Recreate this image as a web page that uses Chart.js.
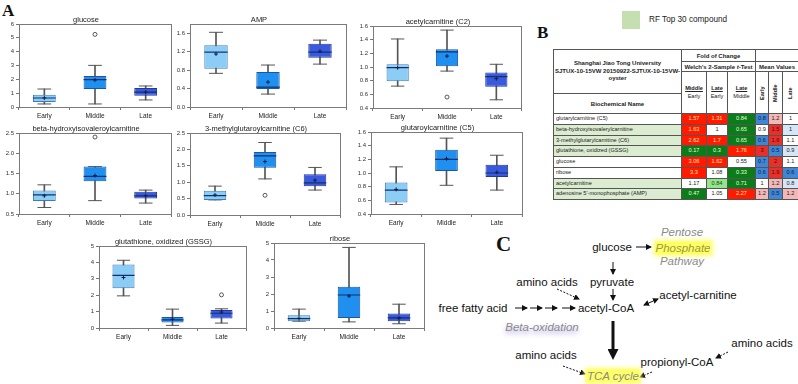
<!DOCTYPE html>
<html>
<head>
<meta charset="utf-8">
<script src="https://cdn.jsdelivr.net/npm/chart.js@4.4.1/dist/chart.umd.min.js"></script>
<style>
body{margin:0;width:798px;height:384px;position:relative;background:#fff;overflow:hidden;font-family:"Liberation Sans",Arial,sans-serif}
.box{position:absolute}
.big{position:absolute;font-family:"Liberation Serif","DejaVu Serif",serif;font-weight:bold;color:#111}
#tbl{position:absolute;left:553px;top:49px;border-collapse:collapse;table-layout:fixed;width:245px;font-size:5.6px;color:#222}
#tbl td{border:1px solid #555;padding:0;text-align:center;overflow:hidden;white-space:nowrap;line-height:1}
#tbl td.hd{font-weight:bold;font-size:6px}
#tbl td.nm{text-align:left;padding-left:2px}
#tbl td.vt{writing-mode:vertical-rl;transform:rotate(180deg);font-weight:bold}
#tbl tr.dr{height:10.75px}
.pw{position:absolute;transform:translate(-50%,-50%);font-size:11.5px;color:#111;white-space:nowrap}
.it{font-style:italic;color:#8a8a8a}
.hl{background:#ffff66;box-shadow:0 0 4px 2px #ffff66}
</style>
</head>
<body>
<div class="big" style="left:2px;top:1px;font-size:17px">A</div>
<div class="big" style="left:537px;top:23px;font-size:17px">B</div>
<div class="big" style="left:496px;top:232px;font-size:21px">C</div>

<div style="position:absolute;left:622px;top:11px;width:18px;height:18px;background:#c6dfb0"></div>
<div style="position:absolute;left:649px;top:15px;font-size:8.2px;color:#222;white-space:nowrap">RF Top 30 compound</div>

<table id="tbl"></table>

<svg width="798" height="384" style="position:absolute;left:0;top:0">
  <defs>
    <marker id="ah" markerWidth="6" markerHeight="6" refX="5" refY="3" orient="auto-start-reverse" markerUnits="userSpaceOnUse">
      <path d="M0,0 L6,3 L0,6 z" fill="#111"/>
    </marker>
    <marker id="ahb" markerWidth="11" markerHeight="11" refX="2" refY="5.5" orient="auto" markerUnits="userSpaceOnUse">
      <path d="M0,0 L11,5.5 L0,11 z" fill="#111"/>
    </marker>
  </defs>
  <g stroke="#111" stroke-width="1" fill="none">
    <line x1="636" y1="247" x2="651" y2="247" marker-end="url(#ah)"/>
    <line x1="613" y1="262" x2="613" y2="274" marker-end="url(#ah)"/>
    <line x1="613" y1="289" x2="613" y2="300" marker-end="url(#ah)"/>
    <line x1="557" y1="289" x2="579" y2="299" stroke-dasharray="2,1.5" marker-end="url(#ah)"/>
    <line x1="644" y1="305" x2="658" y2="299" marker-start="url(#ah)" marker-end="url(#ah)"/>
    <line x1="515" y1="308" x2="527" y2="308" marker-end="url(#ah)"/>
    <line x1="530" y1="308" x2="542" y2="308" marker-end="url(#ah)"/>
    <line x1="545" y1="308" x2="557" y2="308" marker-end="url(#ah)"/>
    <line x1="562" y1="308" x2="575" y2="308" marker-end="url(#ah)"/>
    <line x1="613" y1="321" x2="613" y2="351" stroke-width="3" marker-end="url(#ahb)"/>
    <line x1="563" y1="366" x2="585" y2="374" stroke-dasharray="2,1.5" marker-end="url(#ah)"/>
    <line x1="652" y1="372" x2="640" y2="377" stroke-dasharray="2,1.5" marker-end="url(#ah)"/>
    <line x1="728" y1="352" x2="716" y2="358" stroke-dasharray="2,1.5" marker-end="url(#ah)"/>
  </g>
</svg>

<div class="pw" style="left:612px;top:247px">glucose</div>
<div class="pw it" style="left:682px;top:232px">Pentose</div>
<div class="pw it" style="left:683px;top:248px"><span class="hl" style="color:#9a9a3a">Phosphate</span></div>
<div class="pw it" style="left:682px;top:261px">Pathway</div>
<div class="pw" style="left:612px;top:282px">pyruvate</div>
<div class="pw" style="left:547px;top:282px">amino acids</div>
<div class="pw" style="left:698px;top:295px">acetyl-carnitine</div>
<div class="pw" style="left:473px;top:308px">free fatty acid</div>
<div class="pw" style="left:606px;top:308px">acetyl-CoA</div>
<div class="pw it" style="left:542px;top:327px;text-shadow:0 3px 5px #a99ee0">Beta-oxidation</div>
<div class="pw" style="left:546px;top:355px">amino acids</div>
<div class="pw" style="left:677px;top:362px">propionyl-CoA</div>
<div class="pw" style="left:762px;top:343px">amino acids</div>
<div class="pw it" style="left:613px;top:376px"><span class="hl">TCA cycle</span></div>

<script>
const groups = ['Early', 'Middle', 'Late'];

// each box: [min, q1, median, q3, max]
const glucoseBox = [[0.22, 0.36, 0.65, 0.89, 1.30], [0.22, 1.30, 1.98, 2.24, 3.01], [0.51, 0.82, 1.08, 1.37, 1.52]];
const glucoseMean = [0.65, 1.95, 1.08];
const glucoseOut = [null, 5.25, null];

const ampBox = [[0.73, 0.83, 1.19, 1.34, 1.62], [0.28, 0.39, 0.43, 0.76, 0.91], [0.93, 1.07, 1.19, 1.37, 1.45]];
const ampMean = [1.15, 0.54, 1.21];
const ampOut = [null, null, null];

const acetylBox = [[0.72, 0.79, 0.99, 1.04, 1.41], [0.94, 1.01, 1.22, 1.26, 1.54], [0.52, 0.71, 0.86, 0.92, 1.04]];
const acetylMean = [0.99, 1.16, 0.83];
const acetylOut = [null, 0.56, null];

const betaBox = [[0.66, 0.82, 0.97, 1.08, 1.22], [0.83, 1.31, 1.43, 1.67, 1.67], [0.77, 0.88, 0.95, 1.05, 1.09]];
const betaMean = [0.95, 1.45, 0.95];
const betaOut = [null, 2.40, null];

const methylBox = [[0.46, 0.46, 0.59, 0.74, 0.88], [1.10, 1.44, 1.80, 1.92, 2.21], [0.76, 0.88, 0.98, 1.24, 1.45]];
const methylMean = [0.61, 1.63, 1.06];
const methylOut = [null, 0.60, null];

const glutBox = [[0.54, 0.57, 0.75, 0.86, 1.09], [0.82, 1.03, 1.20, 1.34, 1.51], [0.75, 0.94, 1.00, 1.12, 1.26]];
const glutMean = [0.76, 1.21, 1.01];
const glutOut = [null, null, null];

const gssgBox = [[1.96, 2.42, 3.21, 3.87, 4.13], [0.16, 0.34, 0.50, 0.67, 1.15], [0.30, 0.58, 0.90, 1.09, 1.17]];
const gssgMean = [3.08, 0.54, 0.97];
const gssgOut = [null, null, 2.02];

const riboseBox = [[0.40, 0.40, 0.55, 0.75, 1.11], [0.36, 0.59, 1.94, 2.43, 4.74], [0.25, 0.40, 0.60, 0.85, 1.40]];
const riboseMean = [0.57, 1.88, 0.58];
const riboseOut = [null, null, null];

// table B
const compounds = ['glutarylcarnitine (C5)', 'beta-hydroxyisovalerylcarnitine', '3-methylglutarylcarnitine (C6)',
  'glutathione, oxidized (GSSG)', 'glucose', 'ribose', 'acetylcarnitine', "adenosine 5'-monophosphate (AMP)"];
const rfTop30 = [false, true, true, true, false, false, true, true];
const foldMiddleEarly = ['1.57', '1.63', '2.62', '0.17', '3.06', '3.3', '1.17', '0.47'];
const foldLateEarly = ['1.31', '1', '1.7', '0.3', '1.62', '1.08', '0.84', '1.05'];
const foldLateMiddle = ['0.84', '0.65', '0.65', '1.76', '0.55', '0.33', '0.71', '2.27'];
const sigMiddleEarly = ['R', 'R', 'R', 'G', 'R', 'R', 'W', 'G'];
const sigLateEarly = ['R', 'W', 'R', 'G', 'R', 'W', 'g', 'W'];
const sigLateMiddle = ['G', 'G', 'G', 'R', 'W', 'G', 'G', 'R'];
const meanEarly = ['0.8', '0.9', '0.6', '3', '0.7', '0.6', '1', '1.2'];
const meanMiddle = ['1.2', '1.5', '1.6', '0.5', '2', '1.9', '1.2', '0.5'];
const meanLate = ['1', '1', '1.1', '0.9', '1.1', '0.6', '0.8', '1.2'];
const heatEarly = ['B', 'W', 'B', 'r', 'B', 'B', 'W', 'P'];
const heatMiddle = ['P', 'r', 'r', 'B', 'r', 'r', 'P', 'B'];
const heatLate = ['W', 'b', 'W', 'b', 'W', 'B', 'b', 'P'];

const cellStyle = {
  R: 'background:#ff1a00;color:#ffe9a8',
  G: 'background:#0a7d1a;color:#e8ffd8',
  g: 'background:#92e68a;color:#1d3d1d',
  W: 'background:#fff;color:#222',
  B: 'background:#3f86d4;color:#0c2040',
  b: 'background:#d7e6f6;color:#222',
  P: 'background:#f5b8b8;color:#222',
  r: 'background:#e8302a;color:#5a0000'
};

function buildTable() {
  let h = '<colgroup><col style="width:128px"><col style="width:25px"><col style="width:21px"><col style="width:28px">' +
    '<col style="width:13px"><col style="width:14px"><col style="width:16px"></colgroup>';
  h += '<tr style="height:12px"><td rowspan="3" class="hd" style="line-height:1.3">Shanghai Jiao Tong University<br>SJTUX-10-15VW 20150922-SJTUX-10-15VW-<br>oyster</td>' +
    '<td colspan="3" class="hd">Fold of Change</td><td colspan="3"></td></tr>';
  h += '<tr style="height:10px"><td colspan="3" class="hd">Welch\'s 2-Sample <i>t</i>-Test</td><td colspan="3" class="hd">Mean Values</td></tr>';
  h += '<tr style="height:22px">' +
    '<td rowspan="2" style="line-height:1.3"><b><u>Middle</u></b><br>Early</td>' +
    '<td rowspan="2" style="line-height:1.3"><b><u>Late</u></b><br>Early</td>' +
    '<td rowspan="2" style="line-height:1.3"><b><u>Late</u></b><br>Middle</td>' +
    '<td rowspan="2" class="vt">Early</td><td rowspan="2" class="vt">Middle</td><td rowspan="2" class="vt">Late</td></tr>';
  h += '<tr style="height:20px"><td class="hd">Biochemical Name</td></tr>';
  compounds.forEach((name, i) => {
    h += '<tr class="dr">';
    h += `<td class="nm" style="background:${rfTop30[i] ? '#dcecd0' : '#fff'}">${name}</td>`;
    h += `<td style="${cellStyle[sigMiddleEarly[i]]}">${foldMiddleEarly[i]}</td>`;
    h += `<td style="${cellStyle[sigLateEarly[i]]}">${foldLateEarly[i]}</td>`;
    h += `<td style="${cellStyle[sigLateMiddle[i]]}">${foldLateMiddle[i]}</td>`;
    h += `<td style="${cellStyle[heatEarly[i]]}">${meanEarly[i]}</td>`;
    h += `<td style="${cellStyle[heatMiddle[i]]}">${meanMiddle[i]}</td>`;
    h += `<td style="${cellStyle[heatLate[i]]}">${meanLate[i]}</td>`;
    h += '</tr>';
  });
  document.getElementById('tbl').innerHTML = h;
}
buildTable();

Chart.defaults.font.family = '"Liberation Sans", Arial, sans-serif';
Chart.defaults.color = '#333';

const boxFill = ['#8ccdf6', '#1f8ff0', '#3a5ade'];
const boxEdge = ['#3d7cbc', '#1a57a8', '#22389a'];

const framePlugin = {
  id: 'frame',
  afterDatasetsDraw(chart) {
    const a = chart.chartArea, c = chart.ctx;
    c.save();
    c.strokeStyle = '#7a7a7a';
    c.lineWidth = 1;
    c.strokeRect(Math.round(a.left) + 0.5, Math.round(a.top) + 0.5, Math.round(a.width), Math.round(a.height));
    c.restore();
  }
};

// plot area [left, top, right, bottom] of each panel
const panels = [
  { title: 'glucose', box: glucoseBox, mean: glucoseMean, out: glucoseOut, min: 0, max: 6, step: 1, dec: 0, area: [19, 24, 172, 107] },
  { title: 'AMP', box: ampBox, mean: ampMean, out: ampOut, min: 0, max: 1.8, step: 0.2, dec: 1, area: [190, 24, 347, 107] },
  { title: 'acetylcarnitine (C2)', box: acetylBox, mean: acetylMean, out: acetylOut, min: 0.4, max: 1.6, step: 0.2, dec: 1, area: [373, 26, 522, 108] },
  { title: 'beta-hydroxyisovaleroylcarnitine', box: betaBox, mean: betaMean, out: betaOut, min: 0.5, max: 2.5, step: 0.5, dec: 1, area: [19, 133, 172, 214] },
  { title: '3-methylglutaroylcarnitine (C6)', box: methylBox, mean: methylMean, out: methylOut, min: 0, max: 2.5, step: 0.5, dec: 1, area: [190, 133, 341, 215] },
  { title: 'glutaroylcarnitine (C5)', box: glutBox, mean: glutMean, out: glutOut, min: 0.4, max: 1.6, step: 0.2, dec: 1, area: [371, 132, 523, 214] },
  { title: 'glutathione, oxidized (GSSG)', box: gssgBox, mean: gssgMean, out: gssgOut, min: 0, max: 5, step: 1, dec: 0, area: [99, 246, 247, 328] },
  { title: 'ribose', box: riboseBox, mean: riboseMean, out: riboseOut, min: 0, max: 5, step: 1, dec: 0, area: [274, 243, 425, 328] }
];

const BOX_PCT = 0.45;
const TITLE_H = 9;

function halfBox(ctx, f) {
  const s = ctx.chart.scales.x;
  return s ? s.width / groups.length * BOX_PCT / 2 * f : 8;
}

function makeBoxChart(p) {
  const [l, t, r, b] = p.area;
  const wrap = document.createElement('div');
  wrap.className = 'box';
  wrap.style.left = (l - 19) + 'px';
  wrap.style.top = (t - TITLE_H) + 'px';
  wrap.style.width = (r - l + 21) + 'px';
  wrap.style.height = (b - t + TITLE_H + 16) + 'px';
  const cv = document.createElement('canvas');
  wrap.appendChild(cv);
  document.body.appendChild(wrap);

  const pointSet = (data, style, extra) => Object.assign({
    type: 'line', data, showLine: false, pointStyle: style, pointHoverRadius: 0
  }, extra);

  new Chart(cv, {
    type: 'bar',
    data: {
      labels: groups,
      datasets: [
        pointSet(p.out, 'circle', { order: 1, pointRadius: 2, borderWidth: 0.8, borderColor: '#333', backgroundColor: '#fff' }),
        pointSet(p.mean, 'cross', { order: 1, pointRadius: 2, borderWidth: 1, borderColor: '#0d1f4a' }),
        pointSet(p.box.map(v => v[2]), 'line', { order: 2, pointRadius: c => halfBox(c, 1), borderWidth: 1.2, borderColor: '#14306b' }),
        { type: 'bar', data: p.box.map(v => [v[1], v[3]]), order: 3, grouped: false, barPercentage: BOX_PCT, categoryPercentage: 1,
          backgroundColor: boxFill, borderColor: boxEdge, borderWidth: 1, borderSkipped: false },
        pointSet(p.box.map(v => v[0]), 'line', { order: 4, pointRadius: c => halfBox(c, 0.6), borderWidth: 1, borderColor: '#555' }),
        pointSet(p.box.map(v => v[4]), 'line', { order: 4, pointRadius: c => halfBox(c, 0.6), borderWidth: 1, borderColor: '#555' }),
        { type: 'bar', data: p.box.map(v => [v[0], v[4]]), order: 5, grouped: false, barThickness: 1,
          backgroundColor: '#555', borderWidth: 0 }
      ]
    },
    options: {
      responsive: true,
      maintainAspectRatio: false,
      animation: false,
      events: [],
      layout: { padding: { right: 2 } },
      plugins: {
        legend: { display: false },
        tooltip: { enabled: false },
        title: { display: true, text: p.title, color: '#222', font: { size: 7.5, weight: 'normal', lineHeight: 1.2 }, padding: { top: 0, bottom: 0 } }
      },
      scales: {
        x: {
          offset: true,
          grid: { display: true, drawOnChartArea: false, drawTicks: true, tickLength: 3, color: '#777' },
          border: { display: false },
          ticks: { font: { size: 6.5 }, color: '#222', padding: 2, maxRotation: 0 },
          afterFit: s => { s.height = 16; }
        },
        y: {
          min: p.min, max: p.max,
          grid: { display: true, drawOnChartArea: false, drawTicks: true, tickLength: 3, color: '#777' },
          border: { display: false },
          ticks: { stepSize: p.step, font: { size: 6 }, color: '#333', padding: 2, callback: v => Number(v).toFixed(p.dec) },
          afterFit: s => { s.width = 19; }
        }
      }
    },
    plugins: [framePlugin]
  });
}

panels.forEach(makeBoxChart);
</script>
</body>
</html>
